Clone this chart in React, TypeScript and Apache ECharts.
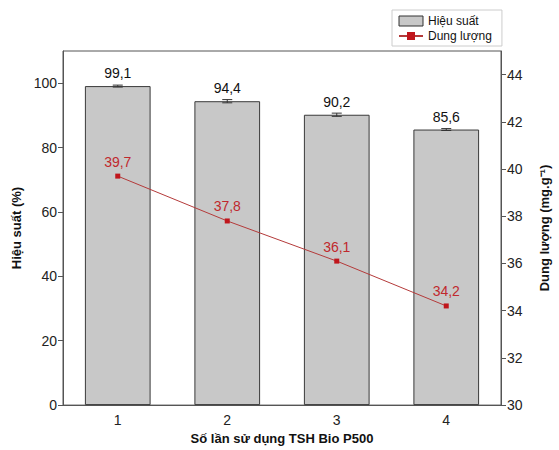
import React, { useEffect, useRef } from "react";
import * as echarts from "echarts";

const categories = ["1", "2", "3", "4"];
const efficiency = [99.1, 94.4, 90.2, 85.6];
const efficiencyErr = [0.3, 0.5, 0.5, 0.3];
const capacity = [39.7, 37.8, 36.1, 34.2];
const leftTicks = [0, 20, 40, 60, 80, 100];
const rightTicks = [30, 32, 34, 36, 38, 40, 42, 44];

const FONT = "Liberation Sans, Arial, sans-serif";

export default function App() {
  const ref = useRef<HTMLDivElement>(null);
  useEffect(() => {
    if (!ref.current) return;
    const chart = echarts.init(ref.current, undefined, { renderer: "svg" });
    const comma = (v: number) => String(v).replace(".", ",");
    chart.setOption({
      animation: false,
      textStyle: { fontFamily: FONT },
      grid: {
        left: 63,
        right: 55,
        top: 51,
        bottom: 43,
        show: true,
        borderColor: "#555",
        borderWidth: 1,
      },
      legend: {
        orient: "vertical",
        left: 392,
        top: 10,
        padding: [5, 10, 4, 6],
        borderColor: "#ccc",
        borderWidth: 1,
        itemWidth: 24,
        itemHeight: 10,
        itemGap: 3,
        textStyle: { fontSize: 12, color: "#111", fontFamily: FONT },
        data: [
          { name: "Hiệu suất", icon: "rect", itemStyle: { color: "#c8c8c8", borderColor: "#333", borderWidth: 1 } },
          { name: "Dung lượng" },
        ],
      },
      xAxis: {
        type: "category",
        data: categories,
        name: "Số lần sử dụng TSH Bio P500",
        nameLocation: "middle",
        nameGap: 26,
        nameTextStyle: { fontSize: 13, fontWeight: "bold", color: "#111" },
        axisLine: { lineStyle: { color: "#555" } },
        axisTick: { alignWithLabel: true, length: 5, lineStyle: { color: "#555" } },
        axisLabel: { fontSize: 14, color: "#222", margin: 8 },
      },
      yAxis: [
        {
          type: "value",
          min: 0,
          max: 110,
          interval: 20,
          name: "Hiệu suất (%)",
          nameLocation: "middle",
          nameGap: 40,
          nameTextStyle: { fontSize: 13, fontWeight: "bold", color: "#111" },
          axisLine: { show: true, lineStyle: { color: "#555" } },
          axisTick: { show: true, length: 5, customValues: leftTicks, lineStyle: { color: "#555" } },
          axisLabel: { fontSize: 14, color: "#222", margin: 6, customValues: leftTicks },
          splitLine: { show: false },
        },
        {
          type: "value",
          min: 30,
          max: 45,
          interval: 2,
          name: "Dung lượng (mg.g⁻¹)",
          nameLocation: "middle",
          nameGap: 37,
          nameTextStyle: { fontSize: 13, fontWeight: "bold", color: "#111" },
          axisLine: { show: true, lineStyle: { color: "#555" } },
          axisTick: { show: true, length: 5, customValues: rightTicks, lineStyle: { color: "#555" } },
          axisLabel: { fontSize: 14, color: "#222", margin: 6, customValues: rightTicks },
          splitLine: { show: false },
        },
      ],
      series: [
        {
          name: "Hiệu suất",
          type: "bar",
          yAxisIndex: 0,
          data: efficiency,
          barWidth: "60%",
          itemStyle: { color: "#c8c8c8", borderColor: "#3a3a3a", borderWidth: 1 },
          label: {
            show: true,
            position: "top",
            distance: 6,
            fontSize: 14,
            color: "#111",
            formatter: (p: any) => comma(p.value),
          },
          z: 2,
        },
        {
          name: "err",
          type: "custom",
          yAxisIndex: 0,
          data: efficiency.map((v, i) => [i, v - efficiencyErr[i], v + efficiencyErr[i]]),
          renderItem: (params: any, api: any) => {
            const x = api.coord([api.value(0), 0])[0];
            const lo = api.coord([api.value(0), api.value(1)])[1];
            const hi = api.coord([api.value(0), api.value(2)])[1];
            const w = 5;
            const style = { stroke: "#333", lineWidth: 1 };
            return {
              type: "group",
              children: [
                { type: "line", shape: { x1: x, y1: lo, x2: x, y2: hi }, style },
                { type: "line", shape: { x1: x - w, y1: lo, x2: x + w, y2: lo }, style },
                { type: "line", shape: { x1: x - w, y1: hi, x2: x + w, y2: hi }, style },
              ],
            };
          },
          z: 3,
        },
        {
          name: "Dung lượng",
          type: "line",
          yAxisIndex: 1,
          data: capacity,
          symbol: "rect",
          symbolSize: 5,
          lineStyle: { color: "#b43a3a", width: 1 },
          itemStyle: { color: "#c0161c" },
          label: {
            show: true,
            position: "top",
            distance: 5,
            fontSize: 14,
            color: "#c0282d",
            formatter: (p: any) => comma(p.value),
          },
          z: 4,
        },
      ],
    });
    return () => chart.dispose();
  }, []);
  return <div ref={ref} style={{ width: 559, height: 450, position: "absolute", left: 0, top: 0 }} />;
}
